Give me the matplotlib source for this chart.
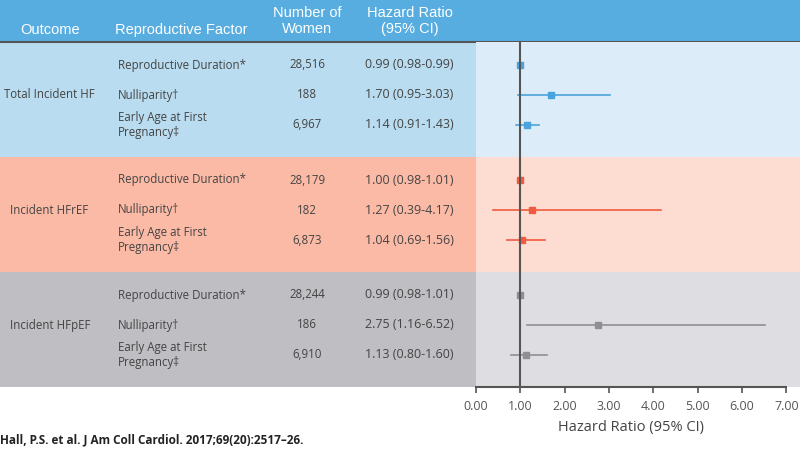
import matplotlib.pyplot as plt
from matplotlib.patches import Rectangle
from matplotlib.ticker import FormatStrFormatter

plt.rcParams['font.family'] = ['Open Sans', 'DejaVu Sans']

# datos
outcomes = ['Total Incident HF', 'Incident HFrEF', 'Incident HFpEF']
factors = ['Reproductive Duration*', 'Nulliparity\u2020', 'Early Age at First\nPregnancy\u2021']
n_women = [['28,516', '188', '6,967'],
           ['28,179', '182', '6,873'],
           ['28,244', '186', '6,910']]
hr = [[0.99, 1.70, 1.14], [1.00, 1.27, 1.04], [0.99, 2.75, 1.13]]
lo = [[0.98, 0.95, 0.91], [0.98, 0.39, 0.69], [0.98, 1.16, 0.80]]
hi = [[0.99, 3.03, 1.43], [1.01, 4.17, 1.56], [1.01, 6.52, 1.60]]
xticks = [0, 1, 2, 3, 4, 5, 6, 7]

# colores
header_col = '#58ade0'
left_cols = ['#b9dcf0', '#fbbaa6', '#bebec3']
right_cols = ['#dcecf8', '#fddcd2', '#dedee2']
mark_cols = ['#4aa3dc', '#f25b3f', '#8f8f93']
txt = '#444444'

# layout en pixeles
W, H = 800, 459
top, grp_h, row0, row_h = 42, 115, 23, 30
split = 476

fig = plt.figure(figsize=(W / 100, H / 100), dpi=100)
bg = fig.add_axes([0, 0, 1, 1])
bg.set_xlim(0, W)
bg.set_ylim(H, 0)
bg.axis('off')

# encabezado
bg.add_patch(Rectangle((0, 0), W, top, color=header_col, lw=0))
hkw = dict(color='white', fontsize=10.5, family=['Liberation Sans', 'DejaVu Sans'],
           ha='center', va='center')
bg.text(50, 30, 'Outcome', **hkw)
bg.text(181, 30, 'Reproductive Factor', **hkw)
bg.text(307, 21, 'Number of\nWomen', linespacing=1.15, **hkw)
bg.text(410, 21, 'Hazard Ratio\n(95% CI)', linespacing=1.15, **hkw)

# tabla
fs = 8.3
for g in range(3):
    y0 = top + g * grp_h
    bg.add_patch(Rectangle((0, y0), split, grp_h, color=left_cols[g], lw=0))
    bg.text(4 if g == 0 else 10, y0 + row0 + row_h, outcomes[g], fontsize=fs,
            color=txt, ha='left', va='center')
    for r in range(3):
        y = y0 + row0 + r * row_h
        bg.text(118, y, factors[r], fontsize=fs, color=txt, ha='left', va='center',
                linespacing=1.2)
        bg.text(307, y, n_women[g][r], fontsize=fs, color=txt, ha='center', va='center')
        s = '%.2f (%.2f-%.2f)' % (hr[g][r], lo[g][r], hi[g][r])
        bg.text(409, y, s, fontsize=9, color=txt, ha='center', va='center')

bg.plot([0, W], [top, top], color='#555555', lw=1.5)

bg.text(0, 440, 'Hall, P.S. et al. J Am Coll Cardiol. 2017;69(20):2517\u201326.',
        fontsize=8.5, fontweight='bold', color='#222222', ha='left', va='center')

# grafico de bosque
ax_w = W - split
unit = 44.35  # px por unidad de HR
ax = fig.add_axes([split / W, (H - top - 3 * grp_h) / H, ax_w / W, 3 * grp_h / H])
ax.patch.set_alpha(0)
ax.set_xlim(0, ax_w / unit)
ax.set_ylim(3 * grp_h / row_h, 0)

for g in range(3):
    g0 = g * grp_h / row_h
    ax.axhspan(g0, g0 + grp_h / row_h, color=right_cols[g], lw=0, zorder=0)
    for r in range(3):
        y = g0 + (row0 + r * row_h) / row_h
        ax.plot([lo[g][r], hi[g][r]], [y, y], color=mark_cols[g], lw=1.2, zorder=2)
        ax.plot(hr[g][r], y, 's', color=mark_cols[g], ms=5, zorder=3)

ax.axvline(1, color='#555555', lw=1.5, zorder=4)

for s in ['top', 'right', 'left']:
    ax.spines[s].set_visible(False)
ax.spines['bottom'].set_bounds(0, 7)
ax.spines['bottom'].set_color('#555555')
ax.spines['bottom'].set_linewidth(1.5)
ax.set_yticks([])
ax.set_xticks(xticks)
ax.xaxis.set_major_formatter(FormatStrFormatter('%.2f'))
ax.tick_params(axis='x', direction='out', length=4, width=1.2, color='#555555',
               labelsize=9, labelcolor='#555555', pad=5)
ax.set_xlabel('Hazard Ratio (95% CI)', fontsize=10.5, color=txt)
ax.xaxis.set_label_coords(3.5 / (ax_w / unit), -0.095)

fig.savefig('out.png', dpi=100)
